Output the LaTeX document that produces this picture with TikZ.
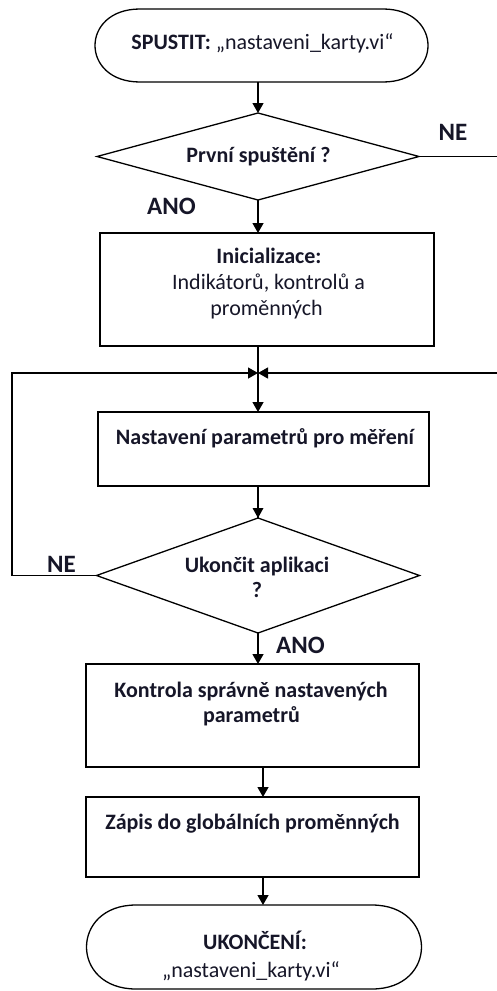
\documentclass[tikz,border=0pt]{standalone}
\usepackage{fontspec}
\setmainfont{Carlito}
\usetikzlibrary{shapes.geometric,arrows.meta,calc}
\definecolor{ink}{RGB}{22,22,40}
\begin{document}
\begin{tikzpicture}[x=1pt,y=-1pt,
  line width=1.3pt,
  every node/.style={inner sep=0pt, outer sep=0pt},
  box/.style={draw, rectangle},
  decision/.style={draw, diamond},
  term/.style={rectangle, draw=none},
  txt/.style={anchor=base, text=ink, font=\fontsize{22}{26}\selectfont},
  btxt/.style={anchor=base, text=ink, font=\fontsize{22}{26}\selectfont\bfseries},
  answer/.style={anchor=base, text=ink, font=\fontsize{25}{29}\selectfont\bfseries},
  flow/.style={-{Triangle[width=11pt,length=10pt]}},
]
\useasboundingbox (0,0) rectangle (497,991);

% shapes
\node[term, minimum width=333pt, minimum height=73pt] (start) at (261.5,45.5) {};
\node[decision, minimum width=322pt, minimum height=87pt] (d1) at (258,156.5) {};
\node[box, minimum width=334pt, minimum height=113pt] (b1) at (267,289.5) {};
\coordinate (J) at (258,373);
\node[box, minimum width=331pt, minimum height=74pt] (b2) at (263.5,449) {};
\node[decision, minimum width=323pt, minimum height=115pt] (d2) at (258,575.5) {};
\node[box, minimum width=333pt, minimum height=103pt] (b3) at (252.5,715.5) {};
\node[box, minimum width=333pt, minimum height=80pt] (b4) at (252.5,837) {};
\node[term, minimum width=336pt, minimum height=84pt] (stop) at (254,947) {};

% terminal outlines with elliptic ends
\draw ($(start.north west)+(45,0)$) -- ($(start.north east)+(-45,0)$)
  .. controls +(60,0) and +(60,0) .. ($(start.south east)+(-45,0)$)
  -- ($(start.south west)+(45,0)$)
  .. controls +(-60,0) and +(-60,0) .. cycle;
\draw ($(stop.north west)+(50,0)$) -- ($(stop.north east)+(-50,0)$)
  .. controls +(66,0) and +(66,0) .. ($(stop.south east)+(-50,0)$)
  -- ($(stop.south west)+(50,0)$)
  .. controls +(-66,0) and +(-66,0) .. cycle;

% texts
\node[txt] (start-t) at (262.5,49) {\textbf{SPUSTIT:} „nastaveni\_karty.vi“};
\node[btxt] (d1-t) at (258.5,162) {První spuštění ?};
\node[btxt] (b1-t1) at (269,263) {Inicializace:};
\node[txt] (b1-t2) at (268.5,289) {Indikátorů, kontrolů a};
\node[txt] (b1-t3) at (266.5,315) {proměnných};
\node[btxt] (b2-t) at (265,444) {Nastavení parametrů pro měření};
\node[btxt] (d2-t1) at (257,572) {Ukončit aplikaci};
\node[btxt] (d2-t2) at (257,597) {?};
\node[btxt] (b3-t1) at (251,697) {Kontrola správně nastavených};
\node[btxt] (b3-t2) at (251.5,722) {parametrů};
\node[btxt] (b4-t) at (252.5,829) {Zápis do globálních proměnných};
\node[btxt] (stop-t1) at (255,949) {UKONČENÍ:};
\node[txt] (stop-t2) at (251,977) {„nastaveni\_karty.vi“};

% branch labels
\node[answer] (ne1) at (453,140) {NE};
\node[answer] (ano1) at (171.5,214) {ANO};
\node[answer] (ne2) at (61.5,572) {NE};
\node[answer] (ano2) at (300.5,653) {ANO};

% loop corners
\coordinate (L) at (12,373);
\coordinate (R) at (512,373);

% connectors
\draw[flow] (d1.north |- start.south) -- (d1.north);
\draw[flow] (d1.south) -- (d1.south |- b1.north);
\draw (J |- b1.south) -- (J);
\draw[flow] (d1.east) -| (R) -- (J);
\draw[flow] (d2.west) -| (L) -- (J);
\draw[flow] (J) -- (J |- b2.north);
\draw (b2.south -| d2.north) -- (d2.north);
\fill (d2.north) -- ++(-5.5,-10) -- ++(11,0) -- cycle;
\draw[flow] (d2.south) -- (d2.south |- b3.north);
\draw[flow] (263,0 |- b3.south) -- (263,0 |- b4.north);
\draw[flow] (263,0 |- b4.south) -- (263,0 |- stop.north);
\end{tikzpicture}
\end{document}
